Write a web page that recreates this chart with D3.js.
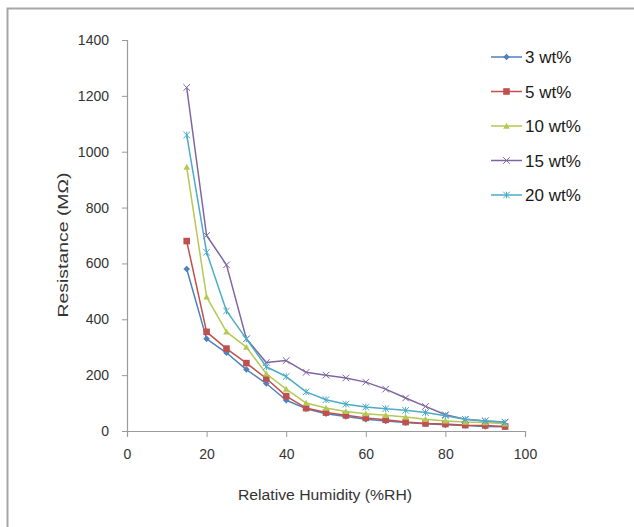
<!DOCTYPE html>
<html>
<head>
<meta charset="utf-8">
<script src="https://cdn.jsdelivr.net/npm/d3@7"></script>
<style>
  html, body { margin: 0; padding: 0; background: #fff; }
  svg { display: block; }
  text { font-family: "Liberation Sans", Arial, sans-serif; }
</style>
</head>
<body>
<svg id="chart" width="634" height="527"></svg>
<script>
// Relative humidity levels (%RH)
const humidity = [15, 20, 25, 30, 35, 40, 45, 50, 55, 60, 65, 70, 75, 80, 85, 90, 95];

// Resistance (MΩ) for each filler loading
const series3 = [580, 330, 280, 220, 170, 110, 80, 62, 52, 42, 36, 30, 26, 22, 20, 16, 15];
const series5 = [680, 355, 295, 243, 188, 125, 82, 66, 56, 47, 40, 32, 27, 25, 21, 20, 16];
const series10 = [945, 480, 355, 300, 205, 150, 100, 82, 70, 62, 56, 50, 42, 36, 32, 30, 26];
const series15 = [1230, 700, 595, 330, 245, 252, 210, 200, 190, 175, 150, 118, 88, 58, 42, 36, 32];
const series20 = [1060, 640, 430, 330, 230, 195, 140, 112, 96, 86, 80, 74, 66, 55, 42, 36, 31];

const seriesNames = ["3 wt%", "5 wt%", "10 wt%", "15 wt%", "20 wt%"];
const seriesColors = ["#4F81BD", "#C0504D", "#B5C952", "#8064A2", "#4BACC6"];
const markerShapes = ["diamond", "square", "triangle", "x", "star"];

const xTicks = [0, 20, 40, 60, 80, 100];
const yTicks = [0, 200, 400, 600, 800, 1000, 1200, 1400];

const allSeries = [series3, series5, series10, series15, series20];

const svg = d3.select("#chart");

// outer frame
svg.append("rect")
  .attr("x", 7.5).attr("y", 8.5)
  .attr("width", 640).attr("height", 530)
  .attr("fill", "#fff")
  .attr("stroke", "#a6a6a6")
  .attr("stroke-width", 2);

const plot = { left: 127, right: 525, top: 40, bottom: 431 };

const x = d3.scaleLinear().domain([0, 100]).range([plot.left, plot.right]);
const y = d3.scaleLinear().domain([0, 1400]).range([plot.bottom, plot.top]);

// axes
const xAxis = svg.append("g")
  .attr("transform", `translate(0,${plot.bottom})`)
  .call(d3.axisBottom(x).tickValues(xTicks).tickFormat(d3.format("d")).tickSize(6).tickPadding(12));
const yAxis = svg.append("g")
  .attr("transform", `translate(${plot.left},0)`)
  .call(d3.axisLeft(y).tickValues(yTicks).tickFormat(d3.format("d")).tickSize(5).tickPadding(13));

[xAxis, yAxis].forEach(g => {
  g.select(".domain").attr("stroke", "#9a9a9a").attr("stroke-width", 1.2);
  g.selectAll(".tick line").attr("stroke", "#9a9a9a");
  g.selectAll(".tick text")
    .attr("fill", "#333")
    .style("font-size", "14px")
    .style("font-family", "'Liberation Sans', Arial, sans-serif");
});

// axis titles
svg.append("text")
  .attr("x", 325)
  .attr("y", 500)
  .attr("text-anchor", "middle")
  .attr("fill", "#333")
  .style("font-size", "14px")
  .attr("textLength", 174)
  .attr("lengthAdjust", "spacingAndGlyphs")
  .text("Relative Humidity (%RH)");

svg.append("text")
  .attr("transform", `translate(68,245) rotate(-90)`)
  .attr("text-anchor", "middle")
  .attr("fill", "#333")
  .style("font-size", "14px")
  .attr("textLength", 145)
  .attr("lengthAdjust", "spacingAndGlyphs")
  .text("Resistance (MΩ)");

// marker drawing
function drawMarker(g, shape, color, cx, cy) {
  const s = 3.3;
  if (shape === "diamond") {
    g.append("path")
      .attr("d", `M${cx},${cy - s} L${cx + s},${cy} L${cx},${cy + s} L${cx - s},${cy} Z`)
      .attr("fill", color);
  } else if (shape === "square") {
    g.append("rect")
      .attr("x", cx - s).attr("y", cy - s)
      .attr("width", 2 * s).attr("height", 2 * s)
      .attr("fill", color);
  } else if (shape === "triangle") {
    g.append("path")
      .attr("d", `M${cx},${cy - s} L${cx + s},${cy + s * 0.8} L${cx - s},${cy + s * 0.8} Z`)
      .attr("fill", color);
  } else if (shape === "x") {
    g.append("path")
      .attr("d", `M${cx - s},${cy - s} L${cx + s},${cy + s} M${cx + s},${cy - s} L${cx - s},${cy + s}`)
      .attr("stroke", color).attr("stroke-width", 1).attr("fill", "none");
  } else {
    g.append("path")
      .attr("d", `M${cx - s},${cy - s} L${cx + s},${cy + s} M${cx + s},${cy - s} L${cx - s},${cy + s} M${cx},${cy - s} L${cx},${cy + s}`)
      .attr("stroke", color).attr("stroke-width", 1).attr("fill", "none");
  }
}

const line = d3.line()
  .x((d, i) => x(humidity[i]))
  .y(d => y(d));

allSeries.forEach((vals, k) => {
  const g = svg.append("g");
  g.append("path")
    .datum(vals)
    .attr("d", line)
    .attr("fill", "none")
    .attr("stroke", seriesColors[k])
    .attr("stroke-width", 1.5)
    .attr("stroke-linejoin", "round");
  vals.forEach((v, i) => drawMarker(g, markerShapes[k], seriesColors[k], x(humidity[i]), y(v)));
});

// legend
const legend = svg.append("g");
seriesNames.forEach((name, k) => {
  const ly = 57 + k * 34.5;
  legend.append("line")
    .attr("x1", 491).attr("x2", 522)
    .attr("y1", ly).attr("y2", ly)
    .attr("stroke", seriesColors[k]).attr("stroke-width", 1.5);
  drawMarker(legend, markerShapes[k], seriesColors[k], 506.5, ly);
  legend.append("text")
    .attr("x", 525).attr("y", ly + 6)
    .attr("fill", "#1a1a1a")
    .style("font-size", "17px")
    .text(name);
});
</script>
</body>
</html>
